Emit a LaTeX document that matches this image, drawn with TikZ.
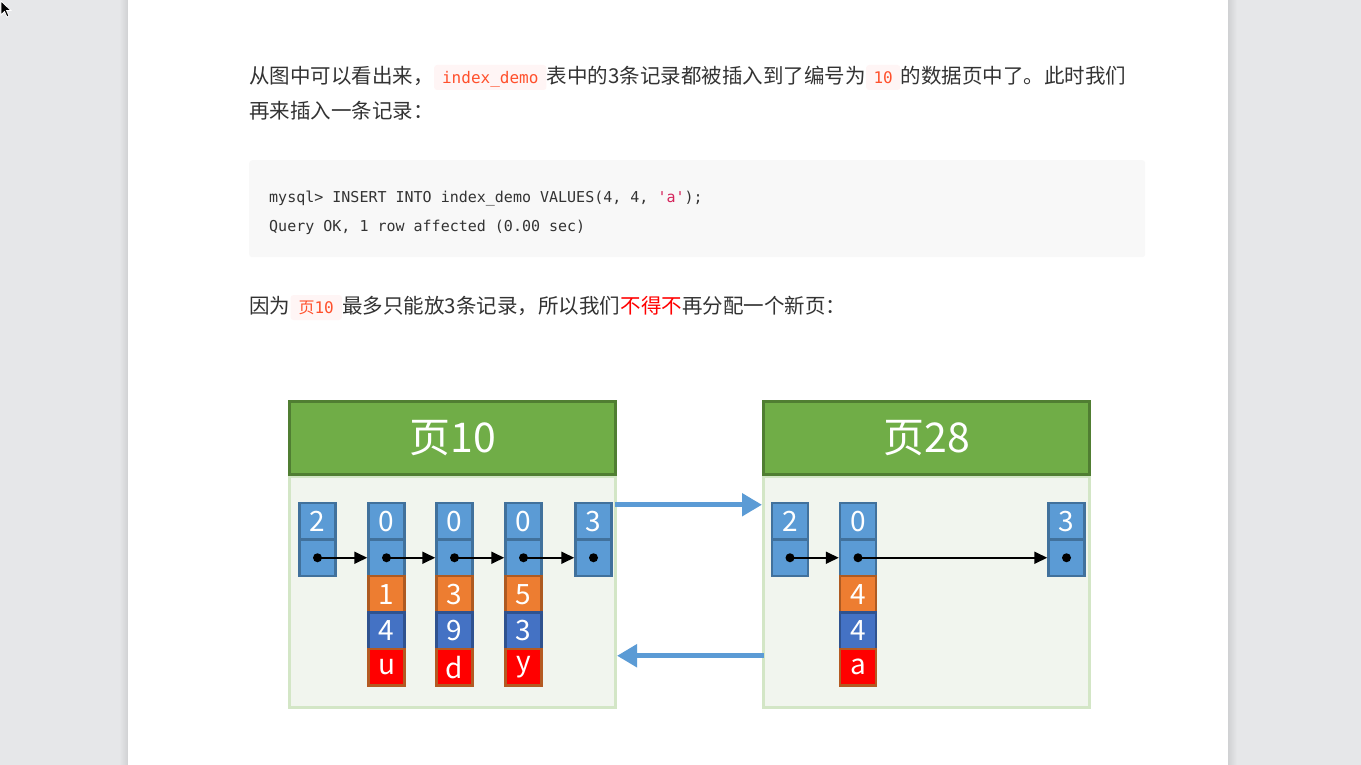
\documentclass[tikz,border=0pt]{standalone}
\usepackage{fontspec}
\setmainfont{Noto Sans CJK SC}
\setmonofont{DejaVu Sans Mono}
\newfontfamily\cjk{Noto Sans CJK SC}
\usetikzlibrary{positioning,arrows.meta,calc}
\definecolor{screen}{HTML}{E6E7E9}
\definecolor{pageshadow}{HTML}{D0D1D3}
\definecolor{bodytext}{HTML}{333333}
\definecolor{codered}{HTML}{FF502C}
\definecolor{codebg}{HTML}{FFF5F5}
\definecolor{blockbg}{HTML}{F8F8F8}
\definecolor{strred}{HTML}{D5245B}
\definecolor{hilite}{HTML}{FF0000}
\definecolor{headfill}{HTML}{70AD47}
\definecolor{headline}{HTML}{507E32}
\definecolor{bodyfill}{HTML}{F1F5EE}
\definecolor{bodyline}{HTML}{D3E6C6}
\definecolor{keyfill}{HTML}{5B9BD5}
\definecolor{keyline}{HTML}{41719C}
\definecolor{orgfill}{HTML}{ED7D31}
\definecolor{orgline}{HTML}{AE5A21}
\definecolor{navyfill}{HTML}{4472C4}
\definecolor{navyline}{HTML}{2F528F}
\definecolor{redfill}{HTML}{FF0000}
\definecolor{redline}{HTML}{B45A22}
\definecolor{pagearrow}{HTML}{5B9BD5}

\begin{document}
\begin{tikzpicture}[
      x=1pt, y=-1pt,
      para/.style={anchor=base west, inner sep=0pt, text=bodytext,
                   font=\fontsize{20.5}{24}\selectfont},
      icode/.style={anchor=base west, inner xsep=8pt, inner ysep=5pt,
                    text height=13.5pt, text depth=1.5pt, fill=codebg,
                    rounded corners=3pt, text=codered,
                    font=\ttfamily\fontsize{16}{16}\selectfont},
      codeline/.style={anchor=base west, inner sep=0pt, text=bodytext,
                       font=\ttfamily\fontsize{15}{18}\selectfont},
      pagehead/.style={draw=headline, line width=3pt, fill=headfill,
                       text=white, font=\cjk\fontsize{41}{41}\selectfont,
                       minimum width=326pt, minimum height=73pt,
                       anchor=north west, inner sep=0pt},
      pagebody/.style={draw=bodyline, line width=3pt, fill=bodyfill,
                       minimum width=326pt, minimum height=231pt,
                       anchor=north west, inner sep=0pt},
      cell/.style={draw, line width=2.5pt, minimum width=36pt,
                   minimum height=36.5pt, inner sep=0pt, text=white,
                   font=\cjk\fontsize{28}{28}\selectfont},
      keycell/.style={cell, draw=keyline, fill=keyfill},
      orgcell/.style={cell, draw=orgline, fill=orgfill},
      navycell/.style={cell, draw=navyline, fill=navyfill},
      redcell/.style={cell, draw=redline, fill=redfill},
      link/.style={-{Triangle[length=13pt,width=12pt]}, line width=1.8pt, black},
      pagelink/.style={-{Triangle[length=20pt,width=22pt]}, line width=5pt, pagearrow}
    ]
    \useasboundingbox (0,0) rectangle (1361,765);

    % screen and page
    \fill[screen] (0,0) rectangle (1361,765);
    \shade[left color=screen, right color=pageshadow] (119,0) rectangle (128,765);
    \shade[left color=pageshadow, right color=screen] (1228,0) rectangle (1237,765);
    \fill[white] (128,0) rectangle (1228,765);
    \filldraw[fill=black, draw=white, line width=0.8pt]
      (1,1) -- (1,15) -- (4.5,11.5) -- (7,17) -- (9,16) -- (6.5,10.5) -- (11,10.5) -- cycle;

    % first paragraph
    \node[para] (intro1) at (249,83.5) {从图中可以看出来，};
    \node[icode] (intro1code) at (intro1.base east) {index\_demo};
    \node[para] (intro1b) at (intro1code.base east) {表中的3条记录都被插入到了编号为};
    \node[icode, inner xsep=7.5pt] (intro1num) at (intro1b.base east) {10};
    \node[para] (intro1c) at (intro1num.base east) {的数据页中了。此时我们};
    \node[para] (intro2) at (249,118.5) {再来插入一条记录：};

    % sql block
    \node[fill=blockbg, rounded corners=3pt, anchor=north west,
          minimum width=896pt, minimum height=97pt] (sqlbox) at (249,160) {};
    \node[codeline] (sql1) at (269,203)
      {mysql> INSERT INTO index\_demo VALUES(4, 4, \textcolor{strred}{'a'});};
    \node[codeline] (sql2) at (269,231) {Query OK, 1 row affected (0.00 sec)};

    % second paragraph
    \node[para] (reason) at (249,313.5) {因为};
    \node[icode] (reasoncode) at (reason.base east) {{\cjk 页}10};
    \node[para] (reason2) at (reasoncode.base east) {最多只能放3条记录，所以我们};
    \node[para, text=hilite] (reasonred) at (reason2.base east) {不得不};
    \node[para] (reason3) at (reasonred.base east) {再分配一个新页：};

    % pages
    \node[pagebody] (body10) at (288,475) {};
    \node[pagehead] (head10) at (288,400) {页10};
    \node[pagebody] (body28) at (762,475) {};
    \node[pagehead] (head28) at (762,400) {页28};

    % record headers
    \foreach \col/\x/\num in {inf10/317.5/2, rec1/386.5/0, rec2/454.5/0,
                              rec3/523.5/0, sup10/593.5/3, inf28/790/2,
                              rec4/858/0, sup28/1066.5/3} {
      \node[keycell] (\col-top) at (\x,521.25) {\num};
      \node[keycell] (\col-ptr) at (\x,557.75) {};
      \fill (\col-ptr) circle[radius=4.5pt];
    }

    % record data
    \foreach \col/\x/\id/\key/\val in {rec1/386.5/1/4/u, rec2/454.5/3/9/d,
                                       rec3/523.5/5/3/y, rec4/858/4/4/a} {
      \node[orgcell] (\col-id) at (\x,594.25) {\id};
      \node[navycell] (\col-key) at (\x,630.75) {\key};
      \node[redcell] (\col-val) at (\x,667.25) {\val};
    }

    \foreach \a/\b in {inf10/rec1, rec1/rec2, rec2/rec3, rec3/sup10,
                       inf28/rec4, rec4/sup28}
      \draw[link] (\a-ptr.center) -- (\b-ptr.west);

    % page list
    \coordinate (fwd-from) at ($(body10.east |- inf10-top.north)+(0,3)$);
    \coordinate (fwd-to) at ($(body28.west |- inf10-top.north)+(0,3)$);
    \coordinate (back-from) at ($(body28.west |- rec4-val.north)+(0,8)$);
    \coordinate (back-to) at ($(body10.east |- rec4-val.north)+(0,8)$);
    \draw[pagelink] ([xshift=-2pt]fwd-from) -- (fwd-to);
    \draw[pagelink] ([xshift=2pt]back-from) -- (back-to);

  \end{tikzpicture}
\end{document}
